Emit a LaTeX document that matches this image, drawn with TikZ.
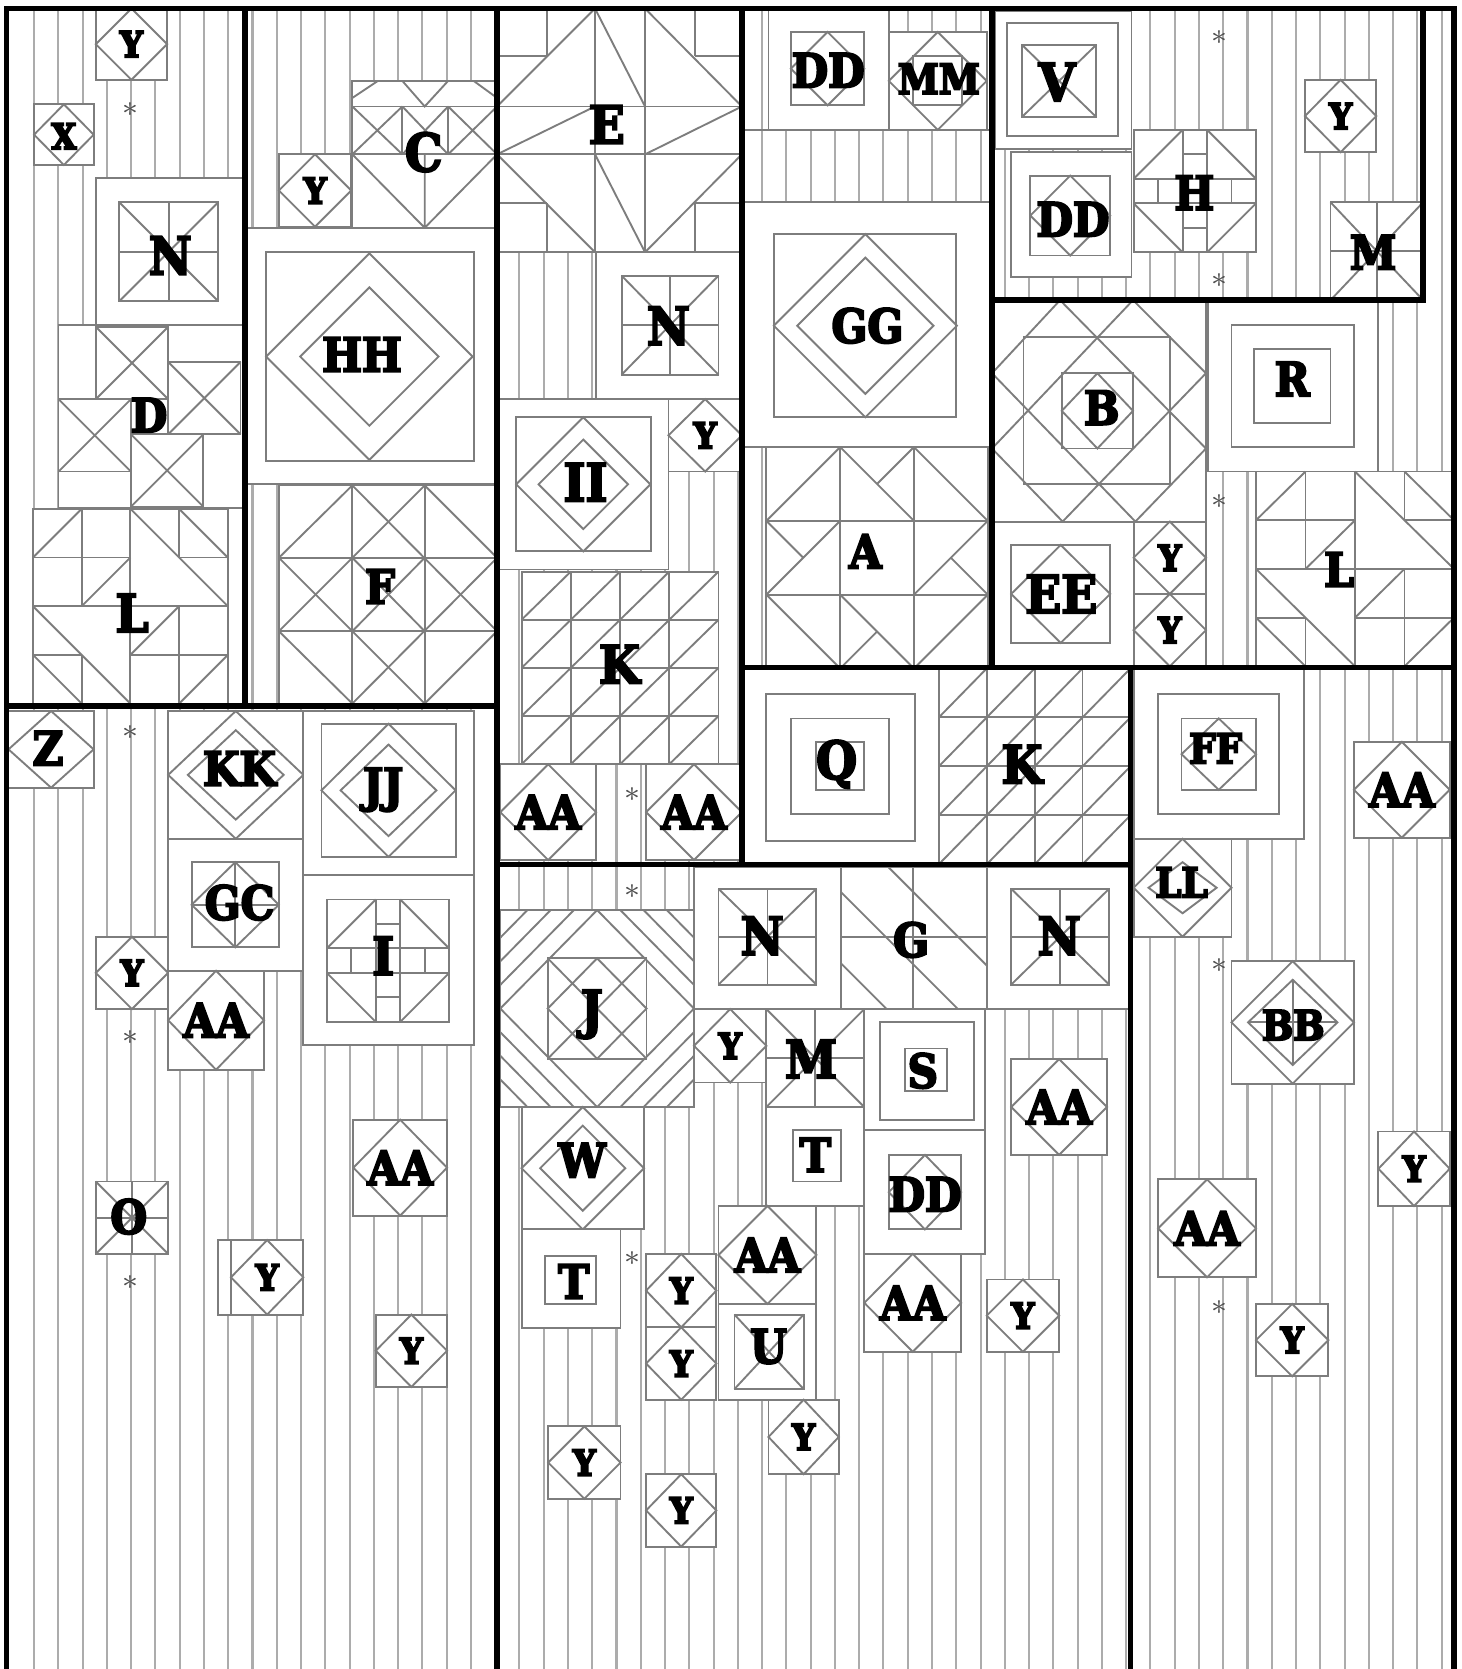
\documentclass[tikz,border=0pt]{standalone}
\usepackage{fontspec}
\newfontfamily\lblfont{DejaVu Serif}[UprightFont={* Bold}, FakeStretch=0.9]
\newcommand{\heavyink}{\special{pdf:literal direct 2 Tr 0.55 w}}
\usetikzlibrary{calc}
\definecolor{seamgray}{RGB}{125,125,125}
\definecolor{stripegray}{RGB}{172,172,172}
\definecolor{stargray}{RGB}{80,80,80}
\tikzset{
  stripe/.style={draw=stripegray, line width=0.55pt},
  seam/.style={draw=seamgray, line width=0.5pt},
  patch/.style={draw=seamgray, fill=white, line width=0.5pt},
  border/.style={draw=black, line width=1.5pt},
  lblY/.style={font=\lblfont\fontsize{9.5}{10}\selectfont\heavyink, inner sep=0pt},
  lblS/.style={font=\lblfont\fontsize{11}{11}\selectfont\heavyink, inner sep=0pt},
  lblM/.style={font=\lblfont\fontsize{12.5}{13}\selectfont\heavyink, inner sep=0pt},
  lblL/.style={font=\lblfont\fontsize{14}{14}\selectfont\heavyink, inner sep=0pt},
  starmark/.style={font=\fontsize{8}{8}\selectfont, text=stargray, inner sep=0pt}
}
% block outlines and motifs
\newcommand{\qbox}[4]{\draw[patch] (#1,#2) rectangle (#3,#4);}
\newcommand{\qdia}[4]{\draw[seam] ({(#1+#3)/2},#2) -- (#3,{(#2+#4)/2}) -- ({(#1+#3)/2},#4) -- (#1,{(#2+#4)/2}) -- cycle;}
\newcommand{\qdiac}[4]{\draw[seam] (#1,{#2-#4}) -- ({#1+#3},#2) -- (#1,{#2+#4}) -- ({#1-#3},#2) -- cycle;}
\newcommand{\qx}[4]{\draw[seam] (#1,#2) -- (#3,#4) (#1,#4) -- (#3,#2);}
\newcommand{\qplus}[4]{\draw[seam] ({(#1+#3)/2},#2) -- ({(#1+#3)/2},#4) (#1,{(#2+#4)/2}) -- (#3,{(#2+#4)/2});}
% L block: 4x4 cells
\newcommand{\qlpattern}[4]{%
  \begin{scope}[shift={(#1,#2)}, xscale=#3, yscale=#4]
    \draw[patch] (0,0) rectangle (4,4);
    \draw[seam] (2,0) -- (2,4) (0,2) -- (4,2)
      (1,0) -- (1,2) (1,3) -- (1,4) (3,0) -- (3,1) (3,2) -- (3,4)
      (0,1) -- (2,1) (3,1) -- (4,1) (0,3) -- (1,3) (2,3) -- (4,3);
    \draw[seam] (0,1) -- (1,0) (1,2) -- (2,1) (2,0) -- (4,2) (3,0) -- (4,1)
      (0,2) -- (2,4) (0,3) -- (1,4) (2,3) -- (3,2) (3,4) -- (4,3);
  \end{scope}}
% K block: 4x4 half squares
\newcommand{\qkgrid}[4]{%
  \begin{scope}[shift={(#1,#2)}, xscale=#3, yscale=#4]
    \draw[patch] (0,0) rectangle (4,4);
    \foreach \i in {1,2,3} \draw[seam] (\i,0) -- (\i,4) (0,\i) -- (4,\i);
    \foreach \i in {0,...,3} \foreach \j in {0,...,3}
      \draw[seam] (\i,\j+1) -- (\i+1,\j);
  \end{scope}}
% H and I blocks
\newcommand{\qhpattern}[4]{%
  \begin{scope}[shift={(#1,#2)}, xscale=#3, yscale=#4]
    \draw[patch] (0,0) rectangle (1,1);
    \draw[seam] (0.4,0) -- (0.4,1) (0.6,0) -- (0.6,1) (0,0.4) -- (1,0.4) (0,0.6) -- (1,0.6)
      (0.4,0.2) -- (0.6,0.2) (0.4,0.8) -- (0.6,0.8) (0.2,0.4) -- (0.2,0.6) (0.8,0.4) -- (0.8,0.6);
    \draw[seam] (0,0.4) -- (0.4,0) (0.6,0) -- (1,0.4) (0,0.6) -- (0.4,1) (0.6,1) -- (1,0.6);
  \end{scope}}
% A block: 3x3 pinwheel
\newcommand{\qapattern}[3]{%
  \begin{scope}[shift={(#1,#2)}, scale=#3]
    \draw[patch] (0,0) rectangle (3,3);
    \draw[seam] (1,0) -- (1,3) (2,0) -- (2,3) (0,1) -- (3,1) (0,2) -- (3,2);
    \draw[seam] (0,1) -- (1,0) (1,0) -- (2,1) (1.5,0.5) -- (2,0) (2,0) -- (3,1)
      (0,2) -- (1,1) (0,1) -- (0.5,1.5) (2,2) -- (3,1) (2.5,1.5) -- (3,2)
      (0,2) -- (1,3) (1,2) -- (2,3) (1.5,2.5) -- (1,3) (3,2) -- (2,3);
  \end{scope}}
% B block
\newcommand{\qbpattern}[4]{%
  \begin{scope}[shift={(#1,#2)}, xscale=#3, yscale=#4]
    \draw[patch] (0,0) rectangle (1,1);
    \draw[seam] (0.147,0.168) rectangle (0.83,0.832) (0.326,0.33) rectangle (0.659,0.67);
    \draw[seam] (0.4925,0.33) -- (0.659,0.5) -- (0.4925,0.67) -- (0.326,0.5) -- cycle;
    \draw[seam] (0.318,0) -- (1,0.67) (0,0.33) -- (0.67,1) (0.659,0) -- (0,0.67) (1,0.33) -- (0.33,1)
      (0.318,0) -- (0,0.33) (0.659,0) -- (1,0.33) (0,0.67) -- (0.33,1) (1,0.67) -- (0.67,1);
  \end{scope}}
% J block
\newcommand{\qjpattern}[4]{%
  \begin{scope}[shift={(#1,#2)}, xscale=#3, yscale=#4]
    \draw[patch] (0,0) rectangle (1,1);
    \begin{scope}
      \clip (0,0) rectangle (1,1);
      \foreach \rr in {0.5,0.62,0.74,0.86}
        \draw[seam] (0.5,{0.5-\rr}) -- ({0.5+\rr},0.5) -- (0.5,{0.5+\rr}) -- ({0.5-\rr},0.5) -- cycle;
    \end{scope}
    \draw[patch] (0.245,0.245) rectangle (0.755,0.755);
    \draw[seam] (0.245,0.245) -- (0.755,0.755) (0.245,0.755) -- (0.755,0.245)
      (0.5,0.245) -- (0.755,0.5) -- (0.5,0.755) -- (0.245,0.5) -- cycle;
  \end{scope}}

\begin{document}
\begin{tikzpicture}[x=0.1mm, y=-0.1mm]
  \useasboundingbox (0,0) rectangle (1373,1568);
  \fill[white] (0,0) rectangle (1373,1568);

  % background stripes
  \foreach \k in {0,...,58}
    \draw[stripe] ({32+22.8*\k},8) -- ({32+22.8*\k},1568);

  % ===== column 1: X, N, D, L =====
  \qbox{32}{98}{88}{155} \qdia{32}{98}{88}{155}
  \node[lblY] (xA) at (60,128) {X};
  \node[starmark] (sA1) at (123,103) {$\ast$};
  \qbox{90}{167}{228}{305}
  \qbox{112}{190}{205}{283} \qx{112}{190}{205}{283} \qplus{112}{190}{205}{283}
  \node[lblL] (nA) at (160,240) {N};
  % D block
  \qbox{55}{305}{228}{477}
  \foreach \xa/\ya in {90/307, 158/340, 55/375, 123/408}
    {\qbox{\xa}{\ya}{\xa+68}{\ya+68} \qx{\xa}{\ya}{\xa+68}{\ya+68}}
  \node[lblM] (dA) at (140,390) {D};
  \qlpattern{31}{478}{45.75}{45.75}
  \node[lblL] (lA) at (124,576) {L};

  % ===== column 2: C, HH, F =====
  \qbox{331}{76}{467}{214}
  \draw[seam] (331,100) -- (467,100) (331,145) -- (467,145);
  \draw[seam] (331,92) -- (355,76) (378,76) -- (399,100) -- (421,76) (445,76) -- (467,92);
  \foreach \xa/\xb in {331/378, 378/421, 421/467}
    {\draw[seam] (\xa,100) rectangle (\xb,145); \qx{\xa}{100}{\xb}{145}}
  \draw[seam] (331,145) -- (399,214) -- (467,145) (399,145) -- (399,214);
  \node[lblL] (cB) at (398,143) {C};
  \qbox{232}{214}{467}{455}
  \qbox{250}{237}{445}{433}
  \qdiac{347}{335}{97}{97} \qdiac{347}{335}{65}{65}
  \node[lblM] (hhB) at (340,333) {HH};
  \qbox{262}{456}{467}{661}
  \draw[seam] (331,456) -- (331,661) (399,456) -- (399,661) (262,524) -- (467,524) (262,593) -- (467,593);
  \draw[seam] (262,524) -- (331,456) (262,593) -- (399,456) (331,593) -- (399,524)
    (331,661) -- (467,524) (399,661) -- (467,593);
  \draw[seam] (331,456) -- (467,593) (399,456) -- (467,524) (262,524) -- (399,661)
    (331,524) -- (399,593) (262,593) -- (331,661);
  \node[lblM] (fB) at (357,551) {F};

  % ===== column 3: E, N, II, K =====
  \qbox{467}{8}{697}{237}
  \draw[seam] (559,8) -- (559,237) (606,8) -- (606,237) (467,100) -- (697,100) (467,145) -- (697,145)
    (514,8) -- (514,53) (653,8) -- (653,53) (514,191) -- (514,237) (653,191) -- (653,237)
    (467,53) -- (514,53) (653,53) -- (697,53) (467,191) -- (514,191) (653,191) -- (697,191);
  \draw[seam] (467,100) -- (559,8) -- (606,100) (606,8) -- (697,100)
    (467,145) -- (559,100) (606,145) -- (697,100)
    (467,145) -- (559,237) (559,145) -- (606,237) -- (697,145);
  \node[lblL] (eC) at (570,117) {E};
  \qbox{560}{237}{697}{375}
  \qbox{584}{259}{675}{352} \qx{584}{259}{675}{352} \qplus{584}{259}{675}{352}
  \node[lblL] (nC) at (628,306) {N};
  \qbox{467}{375}{628}{535} \qbox{485}{392}{612}{518}
  \qdiac{548}{455}{63}{63} \qdiac{548}{455}{42}{42}
  \node[lblL] (iiC) at (550,453) {II};
  \qkgrid{490}{537}{46.25}{45.25}
  \node[lblL] (kC) at (582,624) {K};
  \node[starmark] (sC1) at (594,746) {$\ast$};

  % ===== column 4: DD, MM, GG, A =====
  \draw[seam] (697,122) -- (932,122) (697,190) -- (932,190);
  \qbox{722}{8}{835}{122} \qbox{743}{30}{812}{99} \qdia{743}{30}{812}{99}
  \node[lblM] (ddD) at (778,66) {DD};
  \qbox{835}{30}{927}{122} \qdia{835}{30}{927}{122}
  \draw[seam] (858,53) rectangle (904,99);
  \node[lblS] (mmD) at (882,74) {MM};
  \qbox{697}{190}{930}{420} \qbox{727}{220}{898}{392}
  \qdiac{813}{306}{86}{86} \qdiac{813}{306}{64}{64}
  \node[lblM] (ggD) at (815,306) {GG};
  \qapattern{720}{420}{69.33}
  \node[lblM] (aD) at (813,518) {A};

  % ===== top right panel: V, DD, H, M =====
  \qbox{935}{10}{1063}{140}
  \qbox{946}{22}{1050}{128} \qbox{960}{42}{1030}{110} \qx{960}{42}{1030}{110}
  \node[lblL] (vE) at (993,77) {V};
  \qbox{950}{143}{1063}{260} \qbox{968}{165}{1043}{240} \qdia{968}{165}{1043}{240}
  \node[lblM] (ddE) at (1008,206) {DD};
  \qhpattern{1065}{122}{115}{115}
  \node[lblM] (hE) at (1122,181) {H};
  \qbox{1250}{190}{1337}{282} \qx{1250}{190}{1337}{282} \qplus{1250}{190}{1337}{282}
  \node[lblM] (mE) at (1290,237) {M};
  \node[starmark] (sE1) at (1146,35) {$\ast$};
  \node[starmark] (sE2) at (1146,264) {$\ast$};

  % ===== right panel: B, R, EE, L =====
  \qbpattern{932}{282}{201}{208}
  \node[lblM] (bF) at (1035,383) {B};
  \qbox{1135}{282}{1295}{443} \qbox{1157}{305}{1272}{420} \qbox{1178}{328}{1250}{397}
  \node[lblM] (rF) at (1214,356) {R};
  \qbox{932}{490}{1065}{626} \qbox{950}{512}{1043}{604} \qdia{950}{512}{1043}{604}
  \node[lblL] (eeF) at (997,558) {EE};
  \qlpattern{1180}{443}{46.5}{45.75}
  \node[lblM] (lF) at (1258,535) {L};
  \node[starmark] (sF1) at (1146,471) {$\ast$};

  % ===== middle band: Q, K =====
  \qbox{697}{628}{882}{812} \qbox{720}{652}{860}{790}
  \qbox{743}{675}{835}{765} \qbox{767}{697}{812}{742}
  \node[lblL] (qG) at (786,718) {Q};
  \qkgrid{882}{628}{45}{46}
  \node[lblL] (kG) at (960,718) {K};

  % ===== lower left panel =====
  \qbox{8}{668}{88}{740} \qdia{8}{668}{88}{740}
  \node[lblM] (zH) at (45,703) {Z};
  \qbox{158}{668}{285}{788} \qdia{158}{668}{285}{788} \qdiac{221.5}{728}{45}{42}
  \node[lblM] (kkH) at (225,722) {KK};
  \qbox{285}{668}{445}{822} \qbox{302}{680}{428}{805}
  \qdia{302}{680}{428}{805} \qdiac{365}{742.5}{45}{43}
  \node[lblM] (jjH) at (360,742) {JJ};
  \qbox{158}{788}{285}{912} \qbox{180}{810}{262}{890}
  \qdia{180}{810}{262}{890} \qplus{180}{810}{262}{890}
  \node[lblM] (gcH) at (225,848) {GC};
  \qbox{285}{822}{445}{982} \qhpattern{307}{845}{115}{115}
  \node[lblL] (iH) at (360,898) {I};
  \qbox{90}{1110}{158}{1178} \qx{90}{1110}{158}{1178} \qplus{90}{1110}{158}{1178}
  \node[lblM] (oH) at (121,1143) {O};
  \qbox{205}{1165}{285}{1235}
  \node[starmark] (sH1) at (123,688) {$\ast$};
  \node[starmark] (sH2) at (123,975) {$\ast$};
  \node[starmark] (sH3) at (123,1205) {$\ast$};

  % ===== lower middle panel =====
  \draw[seam] (467,855) -- (652,855);
  \qjpattern{470}{855}{182}{185}
  \node[lblL] (jI) at (556,953) {J};
  \qbox{652}{815}{790}{948}
  \qbox{675}{835}{767}{925} \qx{675}{835}{767}{925} \qplus{675}{835}{767}{925}
  \node[lblL] (nI1) at (716,879) {N};
  \qbox{790}{815}{927}{948}
  \draw[seam] (858,815) -- (858,948) (790,880) -- (927,880);
  \draw[seam] (790,838) -- (900,948) (835,815) -- (927,907) (790,905) -- (833,948);
  \node[lblM] (gI) at (856,883) {G};
  \qbox{927}{815}{1062}{948}
  \qbox{950}{835}{1042}{925} \qx{950}{835}{1042}{925} \qplus{950}{835}{1042}{925}
  \node[lblL] (nI2) at (995,879) {N};
  \qbox{720}{948}{812}{1040} \qx{720}{948}{812}{1040} \qplus{720}{948}{812}{1040}
  \node[lblL] (mI) at (762,995) {M};
  \qbox{812}{948}{925}{1062} \qbox{827}{960}{915}{1052} \qbox{850}{985}{890}{1025}
  \node[lblM] (sI) at (867,1006) {S};
  \qbox{490}{1040}{605}{1155} \qdia{490}{1040}{605}{1155} \qdiac{547.5}{1097.5}{40}{40}
  \node[lblM] (wI) at (547,1090) {W};
  \qbox{720}{1040}{812}{1133} \qbox{745}{1062}{790}{1110}
  \node[lblM] (tI1) at (766,1085) {T};
  \qbox{812}{1062}{925}{1178} \qbox{835}{1085}{903}{1155} \qdia{835}{1085}{903}{1155}
  \node[lblM] (ddI) at (869,1122) {DD};
  \qbox{490}{1155}{583}{1248} \qbox{512}{1180}{560}{1225}
  \node[lblM] (tI2) at (539,1204) {T};
  \qbox{675}{1225}{767}{1315} \qbox{690}{1235}{755}{1305} \qx{690}{1235}{755}{1305}
  \node[lblM] (uI) at (722,1265) {U};
  \node[starmark] (sI1) at (594,838) {$\ast$};
  \node[starmark] (sI2) at (594,1182) {$\ast$};

  % ===== lower right panel =====
  \qbox{1065}{628}{1225}{788} \qbox{1088}{652}{1202}{765}
  \qbox{1110}{675}{1180}{742} \qdia{1110}{675}{1180}{742}
  \node[lblS] (ffJ) at (1142,703) {FF};
  \qbox{1065}{788}{1157}{880} \qdia{1065}{788}{1157}{880} \qdiac{1111}{834}{32}{24}
  \node[lblS] (llJ) at (1110,829) {LL};
  \qbox{1157}{903}{1272}{1018} \qdia{1157}{903}{1272}{1018} \qdiac{1214.5}{960.5}{42}{40}
  \draw[seam] (1172.5,960.5) -- (1256.5,960.5) (1214.5,920.5) -- (1214.5,1000.5);
  \node[lblS] (bbJ) at (1215,963) {BB};
  \node[starmark] (sJ1) at (1146,907) {$\ast$};
  \node[starmark] (sJ2) at (1146,1228) {$\ast$};

  % ===== small diamond blocks =====
  \foreach \xa/\ya/\xb/\yb [count=\i] in {90/8/157/75, 262/145/330/213, 628/375/697/443,
      1226/75/1293/143, 1065/490/1133/558, 1065/558/1133/626, 90/880/158/948,
      217/1165/285/1235, 353/1235/420/1303, 652/948/720/1017, 607/1178/673/1247,
      927/1202/995/1270, 607/1247/673/1315, 722/1315/788/1385, 515/1340/583/1408,
      607/1385/673/1453, 1295/1063/1362/1133, 1180/1225/1248/1293}
  {
    \qbox{\xa}{\ya}{\xb}{\yb} \qdia{\xa}{\ya}{\xb}{\yb}
    \node[lblY] (y\i) at ({(\xa+\xb)/2},{(\ya+\yb)/2}) {Y};
  }
  \foreach \xa/\ya/\xb/\yb [count=\i] in {470/718/560/808, 607/718/697/808, 158/912/248/1005,
      332/1052/420/1142, 950/995/1040/1085, 675/1133/767/1225, 812/1178/903/1270,
      1272/697/1362/787, 1088/1108/1180/1200}
  {
    \qbox{\xa}{\ya}{\xb}{\yb} \qdia{\xa}{\ya}{\xb}{\yb}
    \node[lblM] (aa\i) at ({(\xa+\xb)/2},{(\ya+\yb)/2}) {AA};
  }

  % ===== section borders =====
  \draw[border] (6,1568) -- (6,8) -- (1366,8) -- (1366,1568);
  \draw[border] (230,8) -- (230,663);
  \draw[border] (6,663) -- (467,663);
  \draw[border] (467,8) -- (467,1568);
  \draw[border] (697,8) -- (697,812);
  \draw[border] (467,812) -- (1062,812);
  \draw[border] (932,8) -- (932,627);
  \draw[border] (932,282) -- (1337,282) -- (1337,8);
  \draw[border] (697,627) -- (1366,627);
  \draw[border] (1062,627) -- (1062,1568);
\end{tikzpicture}
\end{document}
